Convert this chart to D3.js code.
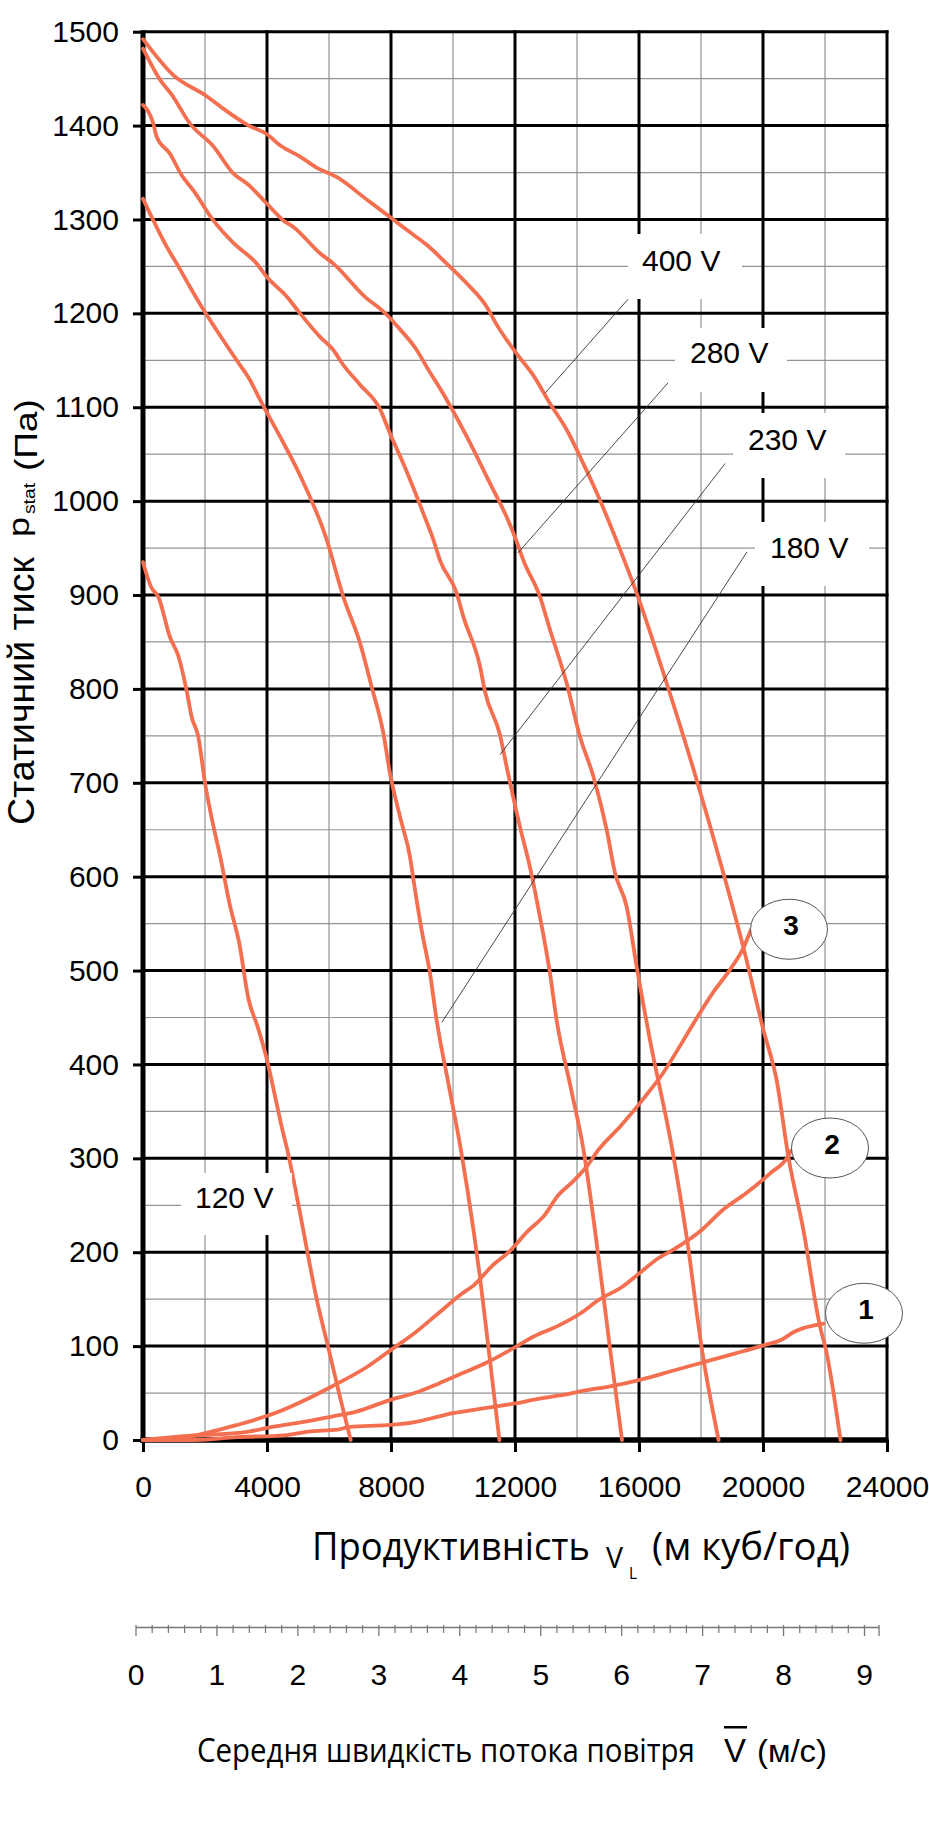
<!DOCTYPE html>
<html><head><meta charset="utf-8">
<script src="https://cdn.jsdelivr.net/npm/d3@7"></script>
<style>body{margin:0;background:#fff}svg{display:block}</style>
</head><body>
<svg id="c" width="929" height="1844"></svg>
<script>
// ---- data (flow m3/h, static pressure Pa) ----
const fan400 = [[0,1492],[968,1454],[2065,1431],[2548,1419],[3355,1401],[4032,1390],[4420,1379],[5065,1367],[5613,1355],[6258,1345],[7226,1321],[8032,1301],[8505,1289],[9151,1273],[9796,1253],[10441,1232],[11086,1207],[11409,1188],[12054,1157],[12591,1134],[13129,1104],[13667,1076],[14204,1040],[14742,1001],[15226,962],[15548,935],[15925,902],[16893,806],[17860,703],[18720,604],[19365,525],[20011,437],[20441,383],[20817,302],[21301,224],[21839,121],[22032,96],[22500,0]];
const fan280 = [[0,1482],[548,1449],[926,1433],[1516,1402],[2269,1378],[2914,1349],[3398,1337],[3990,1317],[4527,1299],[4850,1292],[5710,1264],[6140,1253],[7215,1216],[7645,1205],[7968,1195],[8183,1187],[8828,1161],[9151,1143],[9796,1108],[10441,1069],[11194,1019],[11731,983],[12054,957],[12269,937],[12806,898],[13129,863],[13667,806],[14097,749],[14527,707],[14957,650],[15226,604],[15603,568],[15925,504],[16355,426],[17075,309],[17552,213],[18032,96],[18568,0]];
const fan230 = [[0,1422],[333,1402],[441,1388],[871,1370],[1248,1347],[1624,1331],[2269,1299],[2914,1275],[3667,1253],[3990,1239],[4635,1218],[5065,1200],[5710,1175],[6140,1161],[6462,1145],[7000,1124],[7645,1098],[7968,1072],[8398,1040],[9043,987],[9366,959],[9581,937],[10118,902],[10334,877],[10871,824],[11033,797],[11516,751],[11731,717],[12161,653],[12484,610],[12806,557],[13129,497],[13344,447],[13800,375],[14210,309],[14594,220],[15071,96],[15452,0]];
const fan180 = [[0,1322],[333,1299],[763,1271],[1140,1250],[1516,1228],[1946,1204],[2376,1182],[3021,1150],[3452,1129],[3774,1108],[4400,1070],[4984,1033],[5925,959],[6462,898],[7000,849],[7377,802],[7753,753],[7968,710],[8290,664],[8613,621],[8774,586],[8989,543],[9258,497],[9473,447],[9850,380],[10255,309],[10677,220],[10868,174],[11152,96],[11497,0]];
const fan120 = [[0,935],[270,908],[494,898],[871,855],[1140,835],[1409,798],[1571,770],[1785,749],[2000,700],[2200,665],[2500,620],[2800,570],[3100,530],[3400,470],[3700,440],[4000,405],[4300,360],[4500,330],[4655,309],[4942,263],[5229,213],[5610,149],[5994,96],[6375,43],[6700,0]];
const sys3 = [[0,0],[1694,5],[3032,16],[4368,30],[5129,41],[6090,57],[7235,78],[8000,96],[8764,114],[9529,135],[10293,156],[10677,165],[11248,185],[11823,201],[12397,222],[12968,240],[13352,259],[13923,277],[14307,291],[14688,309],[15422,335],[16178,365],[16800,392],[17400,424],[17968,455],[18397,477],[18936,501],[19366,524],[19604,543]];
const sys2 = [[0,0],[1310,4],[3413,9],[4177,14],[5132,19],[6090,25],[6855,30],[8000,43],[8764,50],[9529,60],[10293,71],[11058,82],[12013,99],[12587,110],[13352,121],[14116,135],[14688,149],[15452,163],[16026,178],[16600,193],[17174,204],[18032,224],[18700,245],[19464,263],[20229,284],[20803,302],[20900,308]];
const sys1 = [[0,0],[1694,0],[3032,3],[4561,5],[5323,9],[6281,11],[6662,14],[8000,16],[8764,19],[9529,25],[9910,28],[10677,32],[11248,35],[12013,39],[12777,44],[13542,48],[14307,53],[15071,57],[16026,64],[16791,71],[17555,78],[18319,85],[19084,92],[20039,101],[20613,107],[20993,115],[21951,124]];
const fanLabels = ["400 V","280 V","230 V","180 V","120 V"];
const sysLabels = ["3","2","1"];
const xTicks = [0,4000,8000,12000,16000,20000,24000];
const yTicks = [0,100,200,300,400,500,600,700,800,900,1000,1100,1200,1300,1400,1500];
const velTicks = [0,1,2,3,4,5,6,7,8,9];

// ---- layout ----
const svg = d3.select("#c");
const x = d3.scaleLinear().domain([0,24000]).range([143,887]);
const y = d3.scaleLinear().domain([0,1500]).range([1440,31.7]);
const v = d3.scaleLinear().domain([0,9]).range([136,864.5]);
const ORANGE = "#f36f4f";
const SANS = "'Liberation Sans', Arial, sans-serif";
const HUM = "'Open Sans', 'Noto Sans', sans-serif";

// text squeezed horizontally to a target width (keeps bbox honest)
function fit(parent, str, px, py, target, family, size, weight) {
  const g = parent.append("g").attr("transform", `translate(${px},${py})`);
  const t = g.append("text").text(str).attr("font-family", family).attr("font-size", size)
    .attr("fill", "#000");
  if (weight) t.attr("font-weight", weight);
  const w = t.node().getComputedTextLength();
  if (target && w > 0) t.attr("transform", `scale(${target / w},1)`);
  return t;
}

const g = svg.append("g");
// minor grid
const minorX = d3.range(2000,24000,4000);
const minorY = d3.range(50,1500,100);
g.selectAll(".mx").data(minorX).join("line")
  .attr("x1",d=>x(d)).attr("x2",d=>x(d)).attr("y1",y(1500)).attr("y2",y(0))
  .attr("stroke","#939393").attr("stroke-width",1.2);
g.selectAll(".my").data(minorY).join("line")
  .attr("x1",x(0)).attr("x2",x(24000)).attr("y1",d=>y(d)).attr("y2",d=>y(d))
  .attr("stroke","#939393").attr("stroke-width",1.2);
// major grid
g.selectAll(".Mx").data(xTicks.slice(1)).join("line")
  .attr("x1",d=>x(d)).attr("x2",d=>x(d)).attr("y1",y(1500)-1.5).attr("y2",y(0))
  .attr("stroke","#000").attr("stroke-width",3);
g.selectAll(".My").data(yTicks.slice(1)).join("line")
  .attr("x1",x(0)).attr("x2",x(24000)+1.5).attr("y1",d=>y(d)).attr("y2",d=>y(d))
  .attr("stroke","#000").attr("stroke-width",3);

// axes
const yAx = svg.append("g").attr("transform",`translate(${x(0)},0)`)
  .call(d3.axisLeft(y).tickValues(yTicks).tickSize(10).tickPadding(14).tickFormat(d3.format("d")));
yAx.select(".domain").remove();
yAx.selectAll(".tick line").attr("stroke","#000").attr("stroke-width",3);
yAx.selectAll(".tick text").attr("font-family",SANS).attr("font-size",30).attr("fill","#000");

const xAx = svg.append("g").attr("transform",`translate(0,${y(0)})`)
  .call(d3.axisBottom(x).tickValues(xTicks).tickSize(12).tickPadding(24).tickFormat(d3.format("d")));
xAx.select(".domain").remove();
xAx.selectAll(".tick line").attr("stroke","#000").attr("stroke-width",3);
xAx.selectAll(".tick text").attr("font-family",SANS).attr("font-size",30).attr("fill","#000");

// axis lines
svg.append("line").attr("x1",x(0)).attr("x2",x(0)).attr("y1",y(1500)-1.5).attr("y2",y(0)+3)
  .attr("stroke","#000").attr("stroke-width",5);
svg.append("line").attr("x1",x(0)-2.5).attr("x2",x(24000)+1.5).attr("y1",y(0)).attr("y2",y(0))
  .attr("stroke","#000").attr("stroke-width",5.5);

// curves
const line = d3.line().x(d=>x(d[0])).y(d=>y(d[1])).curve(d3.curveMonotoneX);
const curves = [fan400,fan280,fan230,fan180,fan120,sys3,sys2,sys1];
svg.append("g").selectAll("path").data(curves).join("path")
  .attr("d",line).attr("fill","none").attr("stroke",ORANGE)
  .attr("stroke-width",3.8).attr("stroke-linejoin","round").attr("stroke-linecap","round");

// voltage labels: white boxes + text (pixel annotation layout)
const labelBoxes = [
  {t:fanLabels[0], bx:628, by:234, bw:114, bh:65, tx:642, ty:271},
  {t:fanLabels[1], bx:675, by:328, bw:112, bh:64, tx:690, ty:363},
  {t:fanLabels[2], bx:733, by:413, bw:112, bh:65, tx:748, ty:450},
  {t:fanLabels[3], bx:755, by:522, bw:114, bh:64, tx:770, ty:558},
  {t:fanLabels[4], bx:181, by:1173, bw:111, bh:62, tx:195, ty:1208}
];
const lg = svg.append("g");
lg.selectAll("rect").data(labelBoxes).join("rect")
  .attr("x",d=>d.bx).attr("y",d=>d.by).attr("width",d=>d.bw).attr("height",d=>d.bh).attr("fill","#fff");
lg.selectAll("text").data(labelBoxes).join("text")
  .attr("x",d=>d.tx).attr("y",d=>d.ty).text(d=>d.t)
  .attr("font-family",SANS).attr("font-size",30).attr("fill","#000");

// leader lines (data coordinates)
const leaders = [
  [[15645,1215],[12968,1115]],
  [[16935,1126],[12097,945]],
  [[18774,1040],[11516,730]],
  [[19484,946],[9645,445]]
];
svg.append("g").selectAll("line").data(leaders).join("line")
  .attr("x1",d=>x(d[0][0])).attr("y1",d=>y(d[0][1]))
  .attr("x2",d=>x(d[1][0])).attr("y2",d=>y(d[1][1]))
  .attr("stroke","#333").attr("stroke-width",0.9);

// system curve number ellipses
const ells = [
  {t:sysLabels[0], cx:20839, cy:544},
  {t:sysLabels[1], cx:22161, cy:311},
  {t:sysLabels[2], cx:23258, cy:135}
];
const eg = svg.append("g");
eg.selectAll("ellipse").data(ells).join("ellipse")
  .attr("cx",d=>x(d.cx)).attr("cy",d=>y(d.cy)).attr("rx",38.5).attr("ry",30)
  .attr("fill","#fff").attr("stroke","#555").attr("stroke-width",1);
eg.selectAll("text").data(ells).join("text")
  .attr("x",d=>x(d.cx)+2).attr("y",d=>y(d.cy)+6).text(d=>d.t)
  .attr("text-anchor","middle").attr("font-family",SANS).attr("font-weight","bold")
  .attr("font-size",28).attr("fill","#000");

// y-axis title (rotated)
const yt = svg.append("g").attr("transform","rotate(-90)");
fit(yt, "Статичний тиск", -825, 34, 268, SANS, 37);
fit(yt, "p", -537, 29, 20, SANS, 30);
fit(yt, "stat", -514, 35, 31, SANS, 16);
fit(yt, "(Па)", -471, 37, 72, SANS, 31);

// x-axis title
fit(svg, "Продуктивність", 312, 1560, 278, HUM, 39);
fit(svg, "V", 606, 1568, 17, HUM, 30);
fit(svg, "L", 629, 1579, 8, HUM, 17);
fit(svg, "(м куб/год)", 652, 1560, 198, HUM, 39);

// velocity scale
const vg = svg.append("g");
const vMinor = d3.range(0,9.2,0.2).filter(d=>Math.abs(d-Math.round(d))>1e-6);
vg.append("line").attr("x1",v(0)).attr("x2",v(9.18)).attr("y1",1627.5).attr("y2",1627.5)
  .attr("stroke","#777").attr("stroke-width",1.3);
vg.selectAll(".vm").data(vMinor).join("line")
  .attr("x1",d=>v(d)).attr("x2",d=>v(d)).attr("y1",1625).attr("y2",1633)
  .attr("stroke","#777").attr("stroke-width",1.2);
vg.selectAll(".vM").data(velTicks.concat([9.18])).join("line")
  .attr("x1",d=>v(d)).attr("x2",d=>v(d)).attr("y1",1625).attr("y2",1636)
  .attr("stroke","#777").attr("stroke-width",1.3);
vg.selectAll("text").data(velTicks).join("text")
  .attr("x",d=>v(d)).attr("y",1685).text(d=>d)
  .attr("text-anchor","middle").attr("font-family",SANS).attr("font-size",30).attr("fill","#000");

// velocity title
fit(svg, "Середня швидкість потока повітря", 197, 1762, 498, HUM, 32);
fit(svg, "V", 724, 1762, 22, SANS, 33);
svg.append("rect").attr("x",724).attr("y",1726).attr("width",23).attr("height",2.5).attr("fill","#000");
fit(svg, "(м/с)", 757, 1762, 70, SANS, 32);
</script>
</body></html>
